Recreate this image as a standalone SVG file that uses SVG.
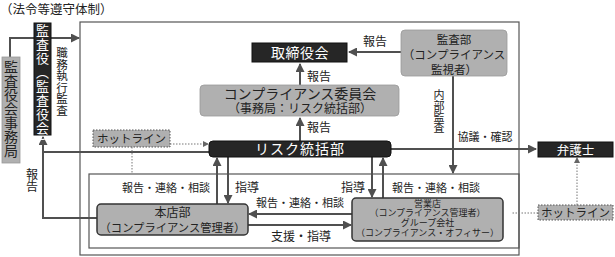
<svg xmlns="http://www.w3.org/2000/svg" width="615" height="257" viewBox="0 0 615 257">
<style>
text{font-family:"Noto Sans CJK JP","Noto Sans",sans-serif;fill:#222}
.w{fill:#fff}
.m{text-anchor:middle}
.v{writing-mode:vertical-rl}
.dark{fill:#262626;stroke:#111;stroke-width:1}
.gray{fill:#b0b0b0;stroke:#999;stroke-width:0.8}
.grayb{fill:#b0b0b0;stroke:#333;stroke-width:1.5}
.hot{fill:#b0b0b0;stroke:#555;stroke-width:1;stroke-dasharray:1.5 1.5}
.frame{fill:none;stroke:#555;stroke-width:1.2}
.ln{fill:none;stroke:#505050;stroke-width:2}
.dot{fill:none;stroke:#777;stroke-width:1;stroke-dasharray:1.5 1.5}
</style>
<defs>
<marker id="ah" markerUnits="userSpaceOnUse" markerWidth="9" markerHeight="9" refX="8" refY="4.5" orient="auto">
<path d="M0,0 L9,4.5 L0,9 z" fill="#505050"/>
</marker>
<marker id="ahs" markerUnits="userSpaceOnUse" markerWidth="6" markerHeight="6" refX="5" refY="3" orient="auto">
<path d="M0,0 L6,3 L0,6 z" fill="#666"/>
</marker>
</defs>

<text x="0" y="14" font-size="12.5">（法令等遵守体制）</text>

<g id="frames">
<rect class="frame" x="80" y="22" width="439" height="233"/>
<rect class="frame" x="89" y="174" width="430" height="74"/>
</g>

<g id="connectors">
<path class="ln" d="M10,57 V38 H79" marker-end="url(#ah)"/>
<path class="ln" d="M401,52 H349" marker-end="url(#ah)"/>
<path class="ln" d="M300,85 V64" marker-end="url(#ah)"/>
<path class="ln" d="M300,141 V118" marker-end="url(#ah)"/>
<path class="ln" d="M209,152 H43 V137" marker-end="url(#ah)"/>
<path class="ln" d="M97,218 H43 V152"/>
<path class="ln" d="M453,76 V173" marker-end="url(#ah)"/>
<path class="ln" d="M391,149 H536" marker-end="url(#ah)"/>
<path class="ln" d="M217,204 V158" marker-end="url(#ah)"/>
<path class="ln" d="M228,157 V203" marker-end="url(#ah)"/>
<path class="ln" d="M372,157 V197" marker-end="url(#ah)"/>
<path class="ln" d="M383,198 V158" marker-end="url(#ah)"/>
<path class="ln" d="M352,214 H249" marker-end="url(#ah)"/>
<path class="ln" d="M248,225 H351" marker-end="url(#ah)"/>
<path class="dot" d="M170,144 H208" marker-end="url(#ahs)"/>
<path class="dot" d="M132,147 V174"/>
<path class="dot" d="M538,213 H512"/>
<path class="dot" d="M577,205 V158" marker-end="url(#ahs)"/>
<text class="v" x="62" y="47" font-size="11.5">職務執行監査</text>
<text class="v" x="32" y="168" font-size="12">報告</text>
<text x="363" y="46" font-size="12">報告</text>
<text x="307" y="81" font-size="12">報告</text>
<text x="307" y="132" font-size="12">報告</text>
<text class="v" x="439" y="89" font-size="11">内部監査</text>
<text class="m" x="485" y="141" font-size="11">協議・確認</text>
<text class="m" x="166" y="192" font-size="11">報告・連絡・相談</text>
<text x="235" y="192" font-size="12">指導</text>
<text x="341" y="192" font-size="12">指導</text>
<text class="m" x="436" y="192" font-size="11">報告・連絡・相談</text>
<text class="m" x="300" y="207" font-size="11">報告・連絡・相談</text>
<text class="m" x="301" y="241" font-size="12">支援・指導</text>
</g>

<g id="jimukyoku">
<rect class="gray" x="2" y="57" width="18" height="106"/>
<text class="v" x="11" y="60" font-size="14">監査役会事務局</text>
</g>

<g id="kansayaku">
<rect class="dark" x="34" y="23" width="17" height="112"/>
<text class="v w" x="42.5" y="24" font-size="13" letter-spacing="1">監査役（監査役会）</text>
</g>

<g id="torishimariyakukai">
<rect class="dark" x="252" y="43" width="95" height="19"/>
<text class="m w" x="300" y="57.5" font-size="14" letter-spacing="0.5">取締役会</text>
</g>

<g id="kansabu">
<rect class="gray" x="401" y="30" width="106" height="46" rx="4"/>
<text class="m" x="454" y="44" font-size="11.5">監査部</text>
<text class="m" x="454" y="59" font-size="11.5">（コンプライアンス</text>
<text class="m" x="454" y="74" font-size="11.5">監視者）</text>
</g>

<g id="iinkai">
<rect class="gray" x="200" y="85" width="199" height="31" rx="4"/>
<text class="m" x="300" y="98.5" font-size="14">コンプライアンス委員会</text>
<text class="m" x="300" y="113" font-size="12">（事務局：リスク統括部）</text>
</g>

<g id="hotline-left">
<rect class="hot" x="93" y="130" width="77" height="17"/>
<text class="m" x="131.5" y="143" font-size="11.5">ホットライン</text>
</g>

<g id="risk">
<rect class="dark" x="209" y="141" width="182" height="16" rx="4"/>
<text class="m w" x="300" y="154" font-size="14" letter-spacing="1">リスク統括部</text>
</g>

<g id="bengoshi">
<rect class="dark" x="538" y="142" width="75" height="15"/>
<text class="m w" x="575.5" y="154.5" font-size="12.5">弁護士</text>
</g>

<g id="hotline-right">
<rect class="hot" x="538" y="205" width="75" height="15"/>
<text class="m" x="575.5" y="217" font-size="11.5">ホットライン</text>
</g>

<g id="honten">
<rect class="grayb" x="97" y="204" width="151" height="31" rx="4"/>
<text class="m" x="172.5" y="216.5" font-size="12">本店部</text>
<text class="m" x="172.5" y="232" font-size="11.3">（コンプライアンス管理者）</text>
</g>

<g id="eigyoten">
<rect class="grayb" x="352" y="198" width="151" height="43" rx="4"/>
<text class="m" x="427.5" y="206.5" font-size="9">営業店</text>
<text class="m" x="427.5" y="216.3" font-size="9">（コンプライアンス管理者）</text>
<text class="m" x="427.5" y="226.1" font-size="9">グループ会社</text>
<text class="m" x="427.5" y="235.9" font-size="9">（コンプライアンス・オフィサー）</text>
</g>
</svg>
